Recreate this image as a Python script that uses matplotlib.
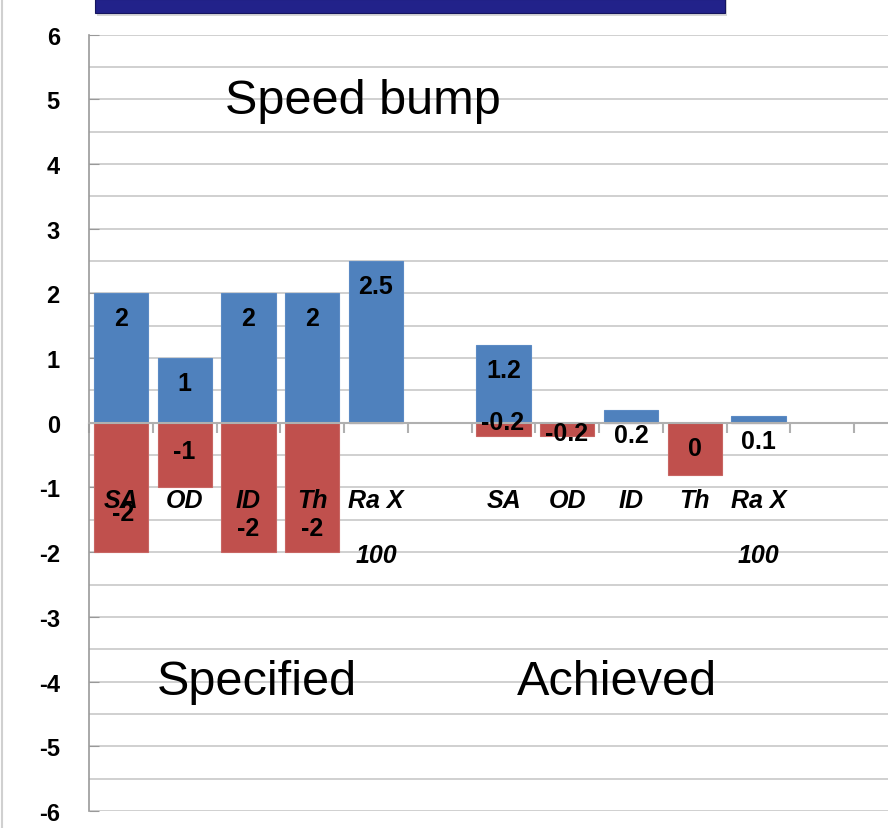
import numpy as np
import matplotlib.pyplot as plt
from matplotlib.patches import Rectangle
from matplotlib.lines import Line2D

# categories (13 slots, last ones empty)
categories = ["SA", "OD", "ID", "Th", "Ra X\n100", "",
              "SA", "OD", "ID", "Th", "Ra X\n100", "", ""]
blue_vals = [2, 1, 2, 2, 2.5, np.nan, 1.2, 0, 0.2, 0, 0.1, np.nan, np.nan]
red_vals = [-2, -1, -2, -2, 0, np.nan, -0.2, -0.2, 0, -0.8, 0, np.nan, np.nan]
blue_labels = ["2", "1", "2", "2", "2.5", "", "1.2", "", "0.2", "", "0.1", "", ""]
red_labels = ["-2", "-1", "-2", "-2", "", "", "-0.2", "-0.2", "", "0", "", "", ""]
yticks = list(range(-6, 7))

# label offsets (pixels) from bar end, styling only
red_dy = [39, 36, 24, 24, 0, 0, 14, 3, 0, 27, 0, 0, 0]
red_dx = [2, 0, 0, 0, 0, 0, -1, -1, 0, 0, 0, 0, 0]

FONT = "Liberation Sans"
W, H = 888, 829
fig = plt.figure(figsize=(W / 100, H / 100), dpi=100)
ax = fig.add_axes([89 / W, 17 / H, 829 / W, 776.5 / H])

x = np.arange(len(categories))
blue_c = "#4F81BD"
red_c = "#C0504D"
ax.bar(x, blue_vals, width=0.85, color=blue_c, edgecolor="#5b8ac4", linewidth=0.8, zorder=3)
ax.bar(x, red_vals, width=0.85, color=red_c, edgecolor="#c86562", linewidth=0.8, zorder=3)

ax.set_xlim(-0.5, len(categories) - 0.5)
ax.set_ylim(-6, 6)
ax.set_yticks(yticks)
ax.set_yticks(np.arange(-5.5, 6, 1.0), minor=True)
ax.set_yticklabels([str(t) for t in yticks], fontfamily=FONT, fontweight="bold", fontsize=17)
ax.tick_params(axis="y", which="major", direction="in", length=7, color="#999999", pad=21)
ax.tick_params(axis="y", which="minor", length=0)
ax.grid(axis="y", which="both", color="#c4c4c4", linewidth=1.1, zorder=0)
ax.set_axisbelow(True)

ax.set_xticks(np.arange(-0.5, len(categories), 1.0))
ax.set_xticklabels([])
ax.tick_params(axis="x", direction="out", length=7.5, color="#b0b0b0", width=1.5)
ax.spines["bottom"].set_position(("data", 0))
ax.spines["bottom"].set_color("#b0b0b0")
ax.spines["bottom"].set_linewidth(1.5)
ax.spines["bottom"].set_zorder(4)
ax.spines["left"].set_color("#999999")
ax.spines["left"].set_linewidth(1.2)
ax.spines["top"].set_visible(False)
ax.spines["right"].set_visible(False)

# category labels (wrapped label lines sit far apart)
line_y = [-1.19, -2.04]
for xi, cat in zip(x, categories):
    for ln, part in enumerate(cat.split("\n")):
        if part:
            ax.text(xi, line_y[ln], part, ha="center", va="center", fontfamily=FONT,
                    fontweight="bold", fontstyle="italic", fontsize=18, zorder=6)

# data labels
for i, (v, lab) in enumerate(zip(blue_vals, blue_labels)):
    if lab:
        ax.annotate(lab, (x[i], v), xytext=(0, -25 * 0.72), textcoords="offset points",
                    ha="center", va="center", fontfamily=FONT,
                    fontweight="bold", fontsize=18, zorder=6)
for i, (v, lab) in enumerate(zip(red_vals, red_labels)):
    if lab:
        ax.annotate(lab, (x[i], v), xytext=(red_dx[i] * 0.72, red_dy[i] * 0.72),
                    textcoords="offset points", ha="center", va="center",
                    fontfamily=FONT, fontweight="bold", fontsize=18, zorder=6)

# annotations in the plot
fig.text(363 / W, 1 - 101 / H, "Speed bump", ha="center", va="center",
         fontfamily=FONT, fontsize=35)
fig.text(257 / W, 1 - 683 / H, "Specified", ha="center", va="center",
         fontfamily=FONT, fontsize=35)
fig.text(617 / W, 1 - 683 / H, "Achieved", ha="center", va="center",
         fontfamily=FONT, fontsize=35)

# cropped banner at top, with a soft shadow
fig.patches.append(Rectangle((97 / W, 1 - 17 / H), 630 / W, 17 / H, transform=fig.transFigure,
                             facecolor="#d8d8d8", edgecolor="none", zorder=1))
fig.patches.append(Rectangle((95 / W, 1 - 13.5 / H), 630 / W, 13.5 / H, transform=fig.transFigure,
                             facecolor="#22228a", edgecolor="#15155e", linewidth=0.8, zorder=2))
fig.lines.append(Line2D([1.5 / W, 1.5 / W], [0, 1], transform=fig.transFigure,
                        color="#d0d0d0", linewidth=1.5))

fig.savefig("out.png", dpi=100)
